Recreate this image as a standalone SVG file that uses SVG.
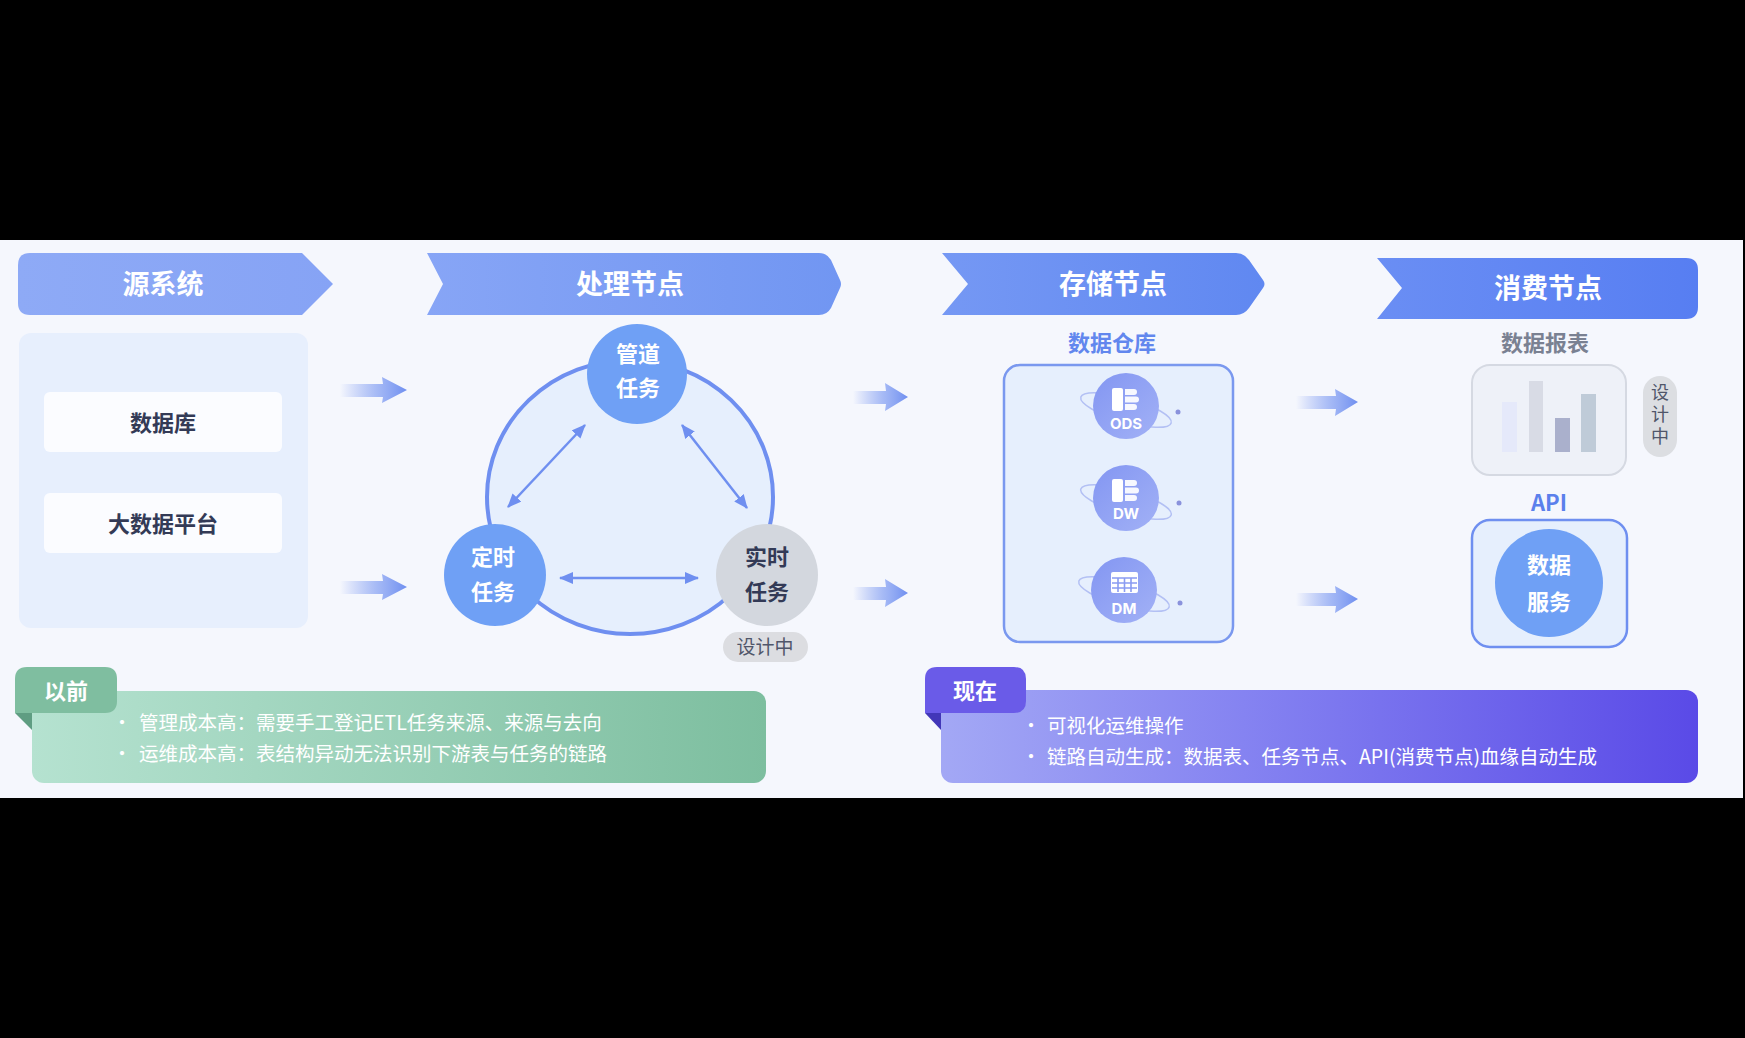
<svg xmlns="http://www.w3.org/2000/svg" width="1745" height="1038" viewBox="0 0 1745 1038">
<defs>
<style>
.t{font-family:'Noto Sans CJK SC','Noto Sans',sans-serif;}
.ttl{font-size:27px;font-weight:700;fill:#ffffff;}
.src{font-size:22px;font-weight:700;fill:#333a56;}
.cw{font-size:22px;font-weight:700;fill:#ffffff;}
.cd{font-size:22px;font-weight:700;fill:#333a56;}
.lbl{font-size:22px;font-weight:700;}
.pill{font-size:19px;fill:#50566a;}
.bul{font-size:19.5px;fill:#ffffff;}
.tab{font-size:22px;font-weight:700;fill:#ffffff;}
.dw{font-family:'Inter','Noto Sans',sans-serif;font-size:15px;font-weight:700;fill:#ffffff;}
.flow{fill:url(#flowG);}
.dbl{stroke:#6f8ff0;stroke-width:2.5;fill:none;marker-start:url(#ah);marker-end:url(#ah);}
.orb{fill:none;stroke:#b3c0f4;stroke-width:1.5;}
.dot{fill:#8a92dc;}
.dwc{fill:url(#dwG);}
</style>
<linearGradient id="flowG" x1="0" y1="0" x2="1" y2="0">
<stop offset="0" stop-color="#7b97f1" stop-opacity="0"/>
<stop offset="0.55" stop-color="#8ba5f3" stop-opacity="0.75"/>
<stop offset="1" stop-color="#6f8ff0" stop-opacity="1"/>
</linearGradient>
<linearGradient id="b1" x1="0" y1="0" x2="1" y2="0"><stop offset="0" stop-color="#8eaaf6"/><stop offset="1" stop-color="#86a3f5"/></linearGradient>
<linearGradient id="b2" x1="0" y1="0" x2="1" y2="0"><stop offset="0" stop-color="#87a5f6"/><stop offset="1" stop-color="#7196f2"/></linearGradient>
<linearGradient id="b3" x1="0" y1="0" x2="1" y2="0"><stop offset="0" stop-color="#7598f4"/><stop offset="1" stop-color="#6088f1"/></linearGradient>
<linearGradient id="b4" x1="0" y1="0" x2="1" y2="0"><stop offset="0" stop-color="#6a8ef4"/><stop offset="1" stop-color="#577ef2"/></linearGradient>
<linearGradient id="gG" x1="0" y1="0" x2="1" y2="0"><stop offset="0" stop-color="#b5e2d0"/><stop offset="1" stop-color="#7dbe9f"/></linearGradient>
<linearGradient id="pG" x1="0" y1="0" x2="1" y2="0"><stop offset="0" stop-color="#a3a8f5"/><stop offset="0.4" stop-color="#8583f1"/><stop offset="1" stop-color="#5a4ae7"/></linearGradient>
<linearGradient id="dwG" x1="0" y1="0" x2="1" y2="1"><stop offset="0" stop-color="#8396f2"/><stop offset="1" stop-color="#a2b1f6"/></linearGradient>
<marker id="ah" viewBox="0 0 14 12" refX="13" refY="6" markerWidth="14" markerHeight="12" markerUnits="userSpaceOnUse" orient="auto-start-reverse">
<path d="M0,0 L14,6 L0,12 Z" fill="#6f8ff0"/>
</marker>
</defs>

<rect x="0" y="0" width="1745" height="1038" fill="#000000"/>
<rect x="0" y="240" width="1743" height="558" fill="#f5f7fd"/>

<!-- banners -->
<g id="banner-source">
<path d="M30,253 L302,253 L333,284 L302,315 L30,315 Q18,315 18,303 L18,265 Q18,253 30,253 Z" fill="url(#b1)"/>
<text class="t ttl" x="163" y="282" text-anchor="middle" dominant-baseline="central">源系统</text>
</g>
<g id="banner-process">
<path d="M427,253 L819,253 Q827,253 831,260 L840,280 Q842,284 840,288 L831,308 Q827,315 819,315 L427,315 L443,284 Z" fill="url(#b2)"/>
<text class="t ttl" x="630" y="282" text-anchor="middle" dominant-baseline="central">处理节点</text>
</g>
<g id="banner-storage">
<path d="M942,253 L1236,253 Q1244,253 1249,260 L1263,280 Q1266,284 1263,288 L1249,308 Q1244,315 1236,315 L942,315 L968,284 Z" fill="url(#b3)"/>
<text class="t ttl" x="1113" y="282" text-anchor="middle" dominant-baseline="central">存储节点</text>
</g>
<g id="banner-consume">
<path d="M1377,258 L1686,258 Q1698,258 1698,270 L1698,307 Q1698,319 1686,319 L1377,319 L1402,288 Z" fill="url(#b4)"/>
<text class="t ttl" x="1548" y="286" text-anchor="middle" dominant-baseline="central">消费节点</text>
</g>

<!-- source system -->
<g id="source-panel">
<rect x="19" y="333" width="289" height="295" rx="12" fill="#e7effd"/>
</g>
<g id="node-db">
<rect x="44" y="392" width="238" height="60" rx="6" fill="#fbfcff"/>
<text class="t src" x="163" y="421" text-anchor="middle" dominant-baseline="central">数据库</text>
</g>
<g id="node-bigdata">
<rect x="44" y="493" width="238" height="60" rx="6" fill="#fbfcff"/>
<text class="t src" x="163" y="522" text-anchor="middle" dominant-baseline="central">大数据平台</text>
</g>

<!-- processing -->
<g id="process-ring">
<ellipse cx="630" cy="497" rx="143" ry="137" fill="#e6effd" stroke="#6f8ff0" stroke-width="4"/>
</g>

<g id="connectors">
<path class="flow" d="M340,384 L383,384 L382,377 L407,390 L382,403 L383,397 L340,397 Z"/>
<path class="flow" d="M340,581 L383,581 L382,574 L407,587 L382,600 L383,594 L340,594 Z"/>
<path class="flow" d="M853,391 L886,391 L885,383 L908,397 L885,411 L886,404 L853,404 Z"/>
<path class="flow" d="M853,587 L886,587 L885,579 L908,593 L885,607 L886,600 L853,600 Z"/>
<path class="flow" d="M1296,396 L1336,396 L1335,389 L1358,402 L1335,416 L1336,409 L1296,409 Z"/>
<path class="flow" d="M1296,593 L1336,593 L1335,586 L1358,599 L1335,613 L1336,606 L1296,606 Z"/>
<line class="dbl" x1="508" y1="507" x2="585" y2="425"/>
<line class="dbl" x1="682" y1="425" x2="747" y2="508"/>
<line class="dbl" x1="560" y1="578" x2="698" y2="578"/>
</g>

<g id="node-pipeline">
<circle cx="637" cy="374" r="50" fill="#6fa0f5"/>
<text class="t cw" x="638" y="352" text-anchor="middle" dominant-baseline="central">管道</text>
<text class="t cw" x="638" y="386" text-anchor="middle" dominant-baseline="central">任务</text>
</g>
<g id="node-scheduled">
<circle cx="495" cy="575" r="51" fill="#6fa0f5"/>
<text class="t cw" x="493" y="555" text-anchor="middle" dominant-baseline="central">定时</text>
<text class="t cw" x="493" y="590" text-anchor="middle" dominant-baseline="central">任务</text>
</g>
<g id="node-realtime">
<circle cx="767" cy="575" r="51" fill="#d3d7de"/>
<text class="t cd" x="767" y="555" text-anchor="middle" dominant-baseline="central">实时</text>
<text class="t cd" x="767" y="590" text-anchor="middle" dominant-baseline="central">任务</text>
<rect x="723" y="632" width="85" height="30" rx="15" fill="#dcdde1"/>
<text class="t pill" x="765" y="645" text-anchor="middle" dominant-baseline="central">设计中</text>
</g>

<!-- storage -->
<g id="node-warehouse">
<text class="t lbl" x="1112" y="341" text-anchor="middle" dominant-baseline="central" fill="#6287ee">数据仓库</text>
<rect x="1004" y="365" width="229" height="277" rx="16" fill="#e6effd" stroke="#7a98ef" stroke-width="2.5"/>
</g>
<g id="node-ods">
<ellipse class="orb" cx="1126" cy="410" rx="47" ry="12" transform="rotate(16 1126 410)"/>
<circle class="dwc" cx="1126" cy="406" r="33"/>
<rect x="1112" y="388" width="11" height="23" rx="2" fill="#ffffff"/>
<path d="M1125,389 h9 a3,3 0 0 1 0,6 h-9 Z M1125,396.5 h11 a3,3 0 0 1 0,6 h-11 Z M1125,404 h9 a3,3 0 0 1 0,6 h-9 Z" fill="#ffffff" opacity="0.92"/>
<text class="dw" x="1126" y="429" text-anchor="middle">ODS</text>
<circle class="dot" cx="1178" cy="412" r="2.5"/>
</g>
<g id="node-dw">
<ellipse class="orb" cx="1126" cy="502" rx="47" ry="12" transform="rotate(16 1126 502)"/>
<circle class="dwc" cx="1126" cy="498" r="33"/>
<rect x="1112" y="479" width="11" height="23" rx="2" fill="#ffffff"/>
<path d="M1125,480 h9 a3,3 0 0 1 0,6 h-9 Z M1125,487.5 h11 a3,3 0 0 1 0,6 h-11 Z M1125,495 h9 a3,3 0 0 1 0,6 h-9 Z" fill="#ffffff" opacity="0.92"/>
<text class="dw" x="1126" y="519" text-anchor="middle">DW</text>
<circle class="dot" cx="1179" cy="503" r="2.5"/>
</g>
<g id="node-dm">
<ellipse class="orb" cx="1124" cy="594" rx="47" ry="12" transform="rotate(16 1124 594)"/>
<circle class="dwc" cx="1124" cy="590" r="33"/>
<rect x="1111" y="572" width="27" height="21" rx="2" fill="#ffffff"/>
<path d="M1112,578 h25 M1112,583 h25 M1112,588 h25 M1118,578 v14 M1124.5,578 v14 M1131,578 v14" stroke="#8a9cf2" stroke-width="1.6" fill="none"/>
<text class="dw" x="1124" y="614" text-anchor="middle">DM</text>
<circle class="dot" cx="1180" cy="603" r="2.5"/>
</g>

<!-- consumption -->
<g id="node-report">
<text class="t lbl" x="1545" y="341" text-anchor="middle" dominant-baseline="central" fill="#7a8192">数据报表</text>
<rect x="1472" y="365" width="154" height="110" rx="18" fill="#eef1f8" stroke="#d5d9e2" stroke-width="2"/>
<rect x="1502" y="402" width="15" height="50" fill="#e5e9fa"/>
<rect x="1529" y="381" width="14" height="71" fill="#d8dbe5"/>
<rect x="1555" y="418" width="15" height="34" fill="#aab0cc"/>
<rect x="1581" y="394" width="15" height="58" fill="#bfcbd8"/>
<rect x="1643" y="376" width="34" height="81" rx="17" fill="#dcdee2"/>
<text class="t" x="1660" y="416" text-anchor="middle" writing-mode="vertical-rl" letter-spacing="4" font-size="18" fill="#50566a">设计中</text>
</g>
<g id="node-api">
<text class="t lbl" x="1549" y="501" text-anchor="middle" dominant-baseline="central" fill="#5b80ec">API</text>
<rect x="1472" y="520" width="155" height="127" rx="18" fill="#e6effd" stroke="#6f8ff0" stroke-width="2.5"/>
<circle cx="1549" cy="583" r="54" fill="#6fa0f5"/>
<text class="t cw" x="1549" y="563" text-anchor="middle" dominant-baseline="central">数据</text>
<text class="t cw" x="1549" y="600" text-anchor="middle" dominant-baseline="central">服务</text>
</g>

<!-- before -->
<g id="note-before">
<rect x="32" y="691" width="734" height="92" rx="12" fill="url(#gG)"/>
<polygon points="15,713 32,713 32,730" fill="#5f9d82"/>
<path d="M27,667 L105,667 Q117,667 117,679 L117,701 Q117,713 105,713 L15,713 L15,679 Q15,667 27,667 Z" fill="#7fbea0"/>
<text class="t tab" x="66" y="689" text-anchor="middle" dominant-baseline="central">以前</text>
<text class="t bul" x="122" y="721" text-anchor="middle" dominant-baseline="central" font-size="14">•</text>
<text class="t bul" x="139" y="721" dominant-baseline="central">管理成本高：需要手工登记ETL任务来源、来源与去向</text>
<text class="t bul" x="122" y="752" text-anchor="middle" dominant-baseline="central" font-size="14">•</text>
<text class="t bul" x="139" y="752" dominant-baseline="central">运维成本高：表结构异动无法识别下游表与任务的链路</text>
</g>

<!-- now -->
<g id="note-now">
<rect x="941" y="690" width="757" height="93" rx="12" fill="url(#pG)"/>
<polygon points="925,713 941,713 941,730" fill="#4237b8"/>
<path d="M937,667 L1014,667 Q1026,667 1026,679 L1026,701 Q1026,713 1014,713 L925,713 L925,679 Q925,667 937,667 Z" fill="#6a5be8"/>
<text class="t tab" x="975" y="689" text-anchor="middle" dominant-baseline="central">现在</text>
<text class="t bul" x="1031" y="724" text-anchor="middle" dominant-baseline="central" font-size="14">•</text>
<text class="t bul" x="1047" y="724" dominant-baseline="central">可视化运维操作</text>
<text class="t bul" x="1031" y="755" text-anchor="middle" dominant-baseline="central" font-size="14">•</text>
<text class="t bul" x="1047" y="755" dominant-baseline="central">链路自动生成：数据表、任务节点、API(消费节点)血缘自动生成</text>
</g>
</svg>
